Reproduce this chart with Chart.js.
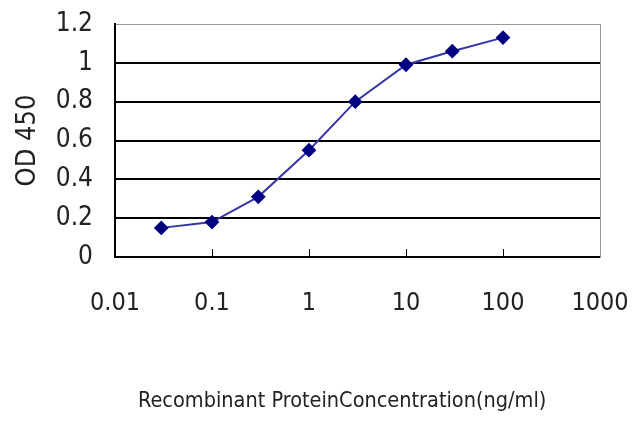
<!DOCTYPE html>
<html>
<head>
<meta charset="utf-8">
<script src="https://cdn.jsdelivr.net/npm/chart.js@4/dist/chart.umd.min.js"></script>
<style>
  html, body { margin: 0; padding: 0; background: #fff; }
  #wrap { width: 640px; height: 427px; }
</style>
</head>
<body>
<div id="wrap"><canvas id="odChart"></canvas></div>
<script>
// concentration (ng/ml) and measured OD 450
const concentrations = [0.03, 0.1, 0.3, 1, 3, 10, 30, 100];
const odValues = [0.15, 0.18, 0.31, 0.55, 0.80, 0.99, 1.06, 1.13];
const xTicks = [0.01, 0.1, 1, 10, 100, 1000];
const xTickLabels = ['0.01', '0.1', '1', '10', '100', '1000'];
const yTicks = [0, 0.2, 0.4, 0.6, 0.8, 1, 1.2];
const yTickLabels = ['0', '0.2', '0.4', '0.6', '0.8', '1', '1.2'];

const narrow = '"Liberation Sans Narrow", "DejaVu Sans Condensed", Arial, sans-serif';

const ctx = document.getElementById('odChart').getContext('2d');
new Chart(ctx, {
    type: 'line',
    data: {
        datasets: [{
            data: concentrations.map((c, i) => ({ x: c, y: odValues[i] })),
            borderColor: '#3535a8',
            borderWidth: 2,
            pointStyle: 'rectRot',
            pointRadius: 6,
            pointBackgroundColor: '#000080',
            pointBorderColor: '#000080',
            tension: 0,
            fill: false
        }]
    },
    options: {
        responsive: true,
        maintainAspectRatio: false,
        animation: false,
        layout: { padding: { top: 24, left: 0, right: 0, bottom: 0 } },
        plugins: {
            legend: { display: false },
            tooltip: { enabled: false }
        },
        scales: {
            x: {
                type: 'logarithmic',
                min: 0.01,
                max: 1000,
                afterBuildTicks: (s) => { s.ticks = xTicks.map(v => ({ value: v })); },
                afterFit: (s) => { s.height = 170; s.paddingLeft = 0; s.paddingRight = 0; },
                grid: {
                    drawOnChartArea: false,
                    drawTicks: true,
                    tickLength: -8,
                    color: '#000'
                },
                border: { color: '#000', width: 2 },
                ticks: {
                    autoSkip: false,
                    maxRotation: 0,
                    padding: 39,
                    color: '#222',
                    font: { family: narrow, size: 25 },
                    callback: (v, i) => xTickLabels[i]
                },
                title: {
                    display: true,
                    text: 'Recombinant ProteinConcentration(ng/ml)     ',
                    color: '#222',
                    font: { family: narrow, size: 21.5 },
                    padding: { top: 0, bottom: 13 }
                }
            },
            y: {
                min: 0,
                max: 1.2,
                afterBuildTicks: (s) => { s.ticks = yTicks.map(v => ({ value: v })); },
                afterFit: (s) => { s.width = 115; s.paddingTop = 0; s.paddingBottom = 0; },
                grid: {
                    drawTicks: false,
                    color: (c) => c.tick && c.tick.value === 1.2 ? '#999' : '#000',
                    lineWidth: (c) => c.tick && c.tick.value === 1.2 ? 1 : 2
                },
                border: { color: '#000', width: 2 },
                ticks: {
                    padding: 22,
                    color: '#222',
                    font: { family: narrow, size: 26 },
                    callback: (v, i) => yTickLabels[i]
                },
                title: {
                    display: true,
                    text: 'OD 450',
                    color: '#222',
                    font: { family: narrow, size: 27 },
                    padding: { top: 12 }
                }
            },
            yRight: {
                position: 'right',
                min: 0,
                max: 1.2,
                afterFit: (s) => { s.width = 40; s.paddingTop = 0; s.paddingBottom = 0; },
                grid: { display: false },
                border: { color: '#999', width: 1 },
                ticks: { display: false }
            }
        }
    }
});
</script>
</body>
</html>
